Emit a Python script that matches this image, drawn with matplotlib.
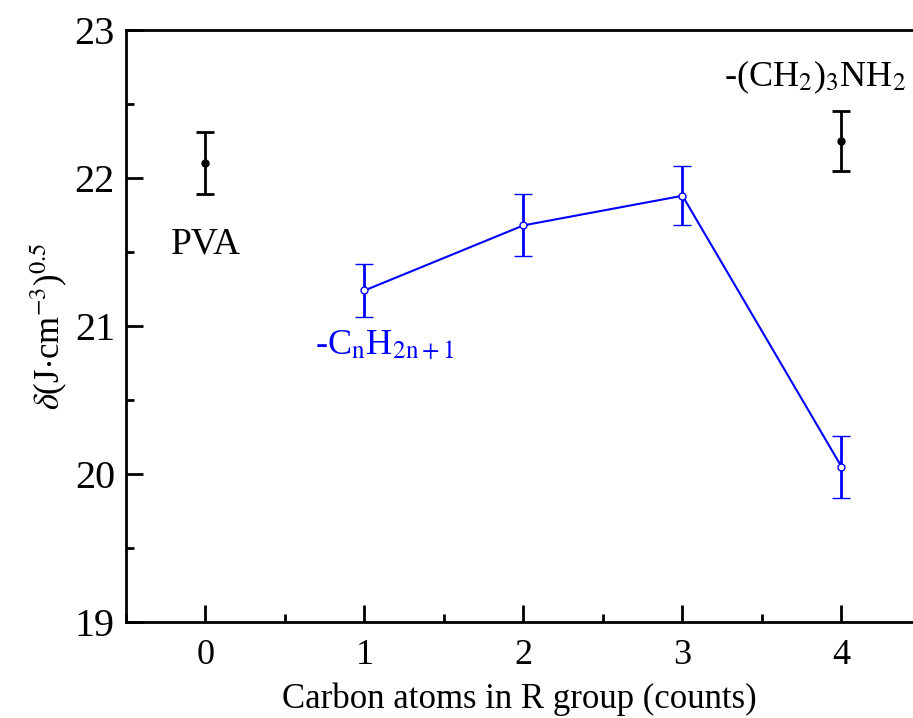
import numpy as np
import matplotlib.pyplot as plt
from matplotlib.ticker import MultipleLocator

plt.rcParams['font.family'] = ['Liberation Serif', 'DejaVu Serif']
plt.rcParams['mathtext.fontset'] = 'stix'

# blue series: -CnH2n+1
n_carbon = [1, 2, 3, 4]
delta_alkyl = [21.24, 21.68, 21.88, 20.05]
err_alkyl = [0.18, 0.21, 0.20, 0.21]

# black points: PVA and -(CH2)3NH2
x_black = [0, 4]
delta_black = [22.10, 22.25]
err_black = [0.21, 0.20]

fig = plt.figure(figsize=(9.13, 7.18), dpi=100)
ax = fig.add_axes([0.138, 0.1337, 0.862, 0.8245])

ax.errorbar(n_carbon, delta_alkyl, yerr=err_alkyl, color='#0000ff', lw=1.5,
            elinewidth=2, capsize=6.5, capthick=2, marker='o', ms=5,
            mfc='white', mec='#0000ff', mew=1)
ax.errorbar(x_black, delta_black, yerr=err_black, color='black', ls='none',
            elinewidth=2, capsize=6.5, capthick=2, marker='o', ms=5)

ax.text(0, 21.55, 'PVA', fontsize=27, ha='center', va='center')
ax.text(4.41, 22.68, r'-(CH$_\mathrm{2}$)$_\mathrm{3}$NH$_\mathrm{2}$', fontsize=26,
        ha='right', va='center')
ax.text(1.13, 20.87, r'-C$_\mathrm{n}$H$_\mathrm{2n+1}$', fontsize=26, ha='center',
        va='center', color='#0000ff')

ax.set_xlim(-0.5, 4.45)
ax.set_ylim(19, 23)
ax.xaxis.set_major_locator(MultipleLocator(1))
ax.xaxis.set_minor_locator(MultipleLocator(0.5))
ax.yaxis.set_major_locator(MultipleLocator(1))
ax.yaxis.set_minor_locator(MultipleLocator(0.5))
ax.tick_params(which='both', direction='in', width=2, top=False, right=False)
ax.tick_params(which='major', length=12)
ax.tick_params(which='minor', length=6)
ax.tick_params(axis='y', labelsize=29, pad=8)
ax.tick_params(axis='x', labelsize=26, pad=12)
ax.spines['right'].set_visible(False)
for s in ['left', 'bottom', 'top']:
    ax.spines[s].set_linewidth(2)

ax.set_xlabel('Carbon atoms in R group (counts)', fontsize=25, labelpad=8)
ax.set_ylabel(r'$\delta$(J$\cdot$cm$^{-3}$)$^{0.5}$', fontsize=25, labelpad=4)

fig.savefig('out.png', dpi=100)
